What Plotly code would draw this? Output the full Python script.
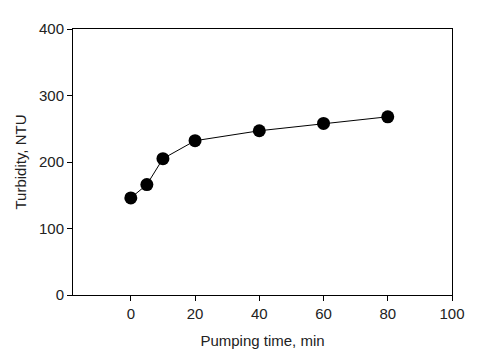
import plotly.graph_objects as go

time_min = [0, 5, 10, 20, 40, 60, 80]
turbidity = [146, 166, 205, 232, 247, 258, 268]
x_ticks = [0, 20, 40, 60, 80, 100]
y_ticks = [0, 100, 200, 300, 400]

fig = go.Figure()
fig.add_trace(go.Scatter(
    x=time_min, y=turbidity, mode="lines+markers",
    line=dict(color="black", width=1),
    marker=dict(color="black", size=13),
    showlegend=False,
))

font = dict(family="Liberation Sans, Arial, sans-serif", size=15, color="#222222")

fig.update_layout(
    width=474, height=354,
    margin=dict(l=65, r=30, t=14, b=67),
    paper_bgcolor="white", plot_bgcolor="white",
    font=font,
)
fig.update_xaxes(
    range=[-18, 100], tickvals=x_ticks, ticks="outside", ticklen=5,
    tickcolor="black", showline=True, linecolor="black", linewidth=1, mirror=True,
    showgrid=False, zeroline=False,
    title=dict(text="Pumping time, min", font=font, standoff=14),
)
fig.update_yaxes(
    range=[0, 400], tickvals=y_ticks, ticks="outside", ticklen=5,
    tickcolor="black", showline=True, linecolor="black", linewidth=1, mirror=True,
    showgrid=False, zeroline=False,
    title=dict(text="Turbidity, NTU", font=font, standoff=8),
)
fig.write_html("out.html")
